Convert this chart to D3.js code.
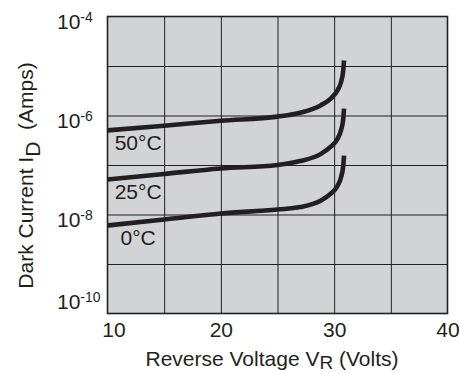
<!DOCTYPE html>
<html><head><meta charset="utf-8">
<script src="https://cdn.jsdelivr.net/npm/d3@7"></script>
<style>body{margin:0;background:#fff}</style>
</head><body><svg id="c" width="460" height="374"></svg>
<script>
const voltage   = [10, 15, 20, 25, 27.0, 28.8, 29.7, 30.3, 30.6, 30.8, 30.87];
const current50C = [5.0e-7, 6.2e-7, 7.85e-7, 9.5e-7, 1.14e-6, 1.6e-6, 2.2e-6, 3.24e-6, 4.7e-6, 8.1e-6, 1.29e-5];
const current25C = [5.1e-8, 6.6e-8, 8.5e-8, 1.0e-7, 1.2e-7, 1.66e-7, 2.34e-7, 3.39e-7, 5.0e-7, 8.5e-7, 1.38e-6];
const current0C  = [6.0e-9, 7.9e-9, 1.05e-8, 1.26e-8, 1.41e-8, 1.9e-8, 2.63e-8, 3.8e-8, 5.6e-8, 9.5e-8, 1.55e-7];
const seriesLabels = ["50°C", "25°C", "0°C"];
const xTicks = [10, 20, 30, 40];
const xGrid = [15, 20, 25, 30, 35];
const yTicks = [1e-4, 1e-6, 1e-8, 1e-10];
const yTickExponents = ["-4", "-6", "-8", "-10"];
const yGrid = [1e-5, 1e-6, 1e-7, 1e-8, 1e-9];
const xTitle = ["Reverse Voltage V", "R", " (Volts)"];
const yTitle = ["Dark Current I", "D", "\u00a0 (Amps)"];

const svg = d3.select("#c");
const ink = "#231f20";
const font = "'Liberation Sans', Arial, Helvetica, sans-serif";
const x = d3.scaleLinear().domain([10, 40]).range([107.5, 447.5]);
const y = d3.scaleLog().domain([1e-10, 1e-4]).range([313.5, 16.5]);
const W = x(40) - x(10), H = y(1e-10) - y(1e-4);

svg.append("rect").attr("x", x(10)).attr("y", y(1e-4)).attr("width", W).attr("height", H).attr("fill", "#d1d3d4");

svg.append("g").attr("transform", `translate(0,${y(1e-10)})`)
  .call(d3.axisBottom(x).tickValues(xGrid).tickSize(-H).tickFormat(""))
  .call(g => { g.select(".domain").remove(); g.selectAll("line").attr("stroke", ink).attr("stroke-width", 1); });

svg.append("g").attr("transform", `translate(${x(10)},0)`)
  .call(d3.axisLeft(y).tickValues(yGrid).tickSize(-W).tickFormat(""))
  .call(g => { g.select(".domain").remove(); g.selectAll("line").attr("stroke", ink).attr("stroke-width", 1); });

svg.append("rect").attr("x", x(10)).attr("y", y(1e-4)).attr("width", W).attr("height", H)
  .attr("fill", "none").attr("stroke", ink).attr("stroke-width", 1.6);

const line = d3.line().x(d => x(d[0])).y(d => y(d[1])).curve(d3.curveMonotoneX);
const series = [current50C, current25C, current0C];
series.forEach((vals, i) => {
  const pts = voltage.map((v, j) => [v, vals[j]]);
  svg.append("path").attr("d", line(pts)).attr("fill", "none").attr("stroke", ink)
    .attr("stroke-width", 4.6).attr("stroke-linecap", "butt");
  svg.append("text").attr("x", x(12.7)).attr("y", y(vals[0]) + 20)
    .attr("text-anchor", "middle").attr("font-family", font).attr("font-size", 21).attr("fill", ink)
    .text(seriesLabels[i]);
});

svg.append("g").attr("transform", `translate(0,${y(1e-10)})`)
  .call(d3.axisBottom(x).tickValues(xTicks).tickSize(0).tickPadding(9).tickFormat(d3.format("d")))
  .call(g => { g.select(".domain").remove();
    g.selectAll("text").attr("font-family", font).attr("font-size", 21).attr("fill", ink)
     .attr("dx", d => d === 10 ? 6 : 0); });

const yl = svg.append("g");
yTicks.forEach((v, i) => {
  const t = yl.append("text").attr("x", 57).attr("y", Math.min(y(v) + 12, y(1e-10) - 5))
    .attr("font-family", font).attr("font-size", 21).attr("fill", ink);
  t.append("tspan").text("10");
  t.append("tspan").attr("font-size", 14).attr("dy", -7).text(yTickExponents[i]);
});

const xt = svg.append("text").attr("x", 272).attr("y", 366).attr("text-anchor", "middle")
  .attr("font-family", font).attr("font-size", 21).attr("fill", ink);
xt.append("tspan").text(xTitle[0]);
xt.append("tspan").attr("dy", 3).attr("font-size", 19).text(xTitle[1]);
xt.append("tspan").attr("dy", -3).text(xTitle[2]);

const yt = svg.append("text").attr("transform", "translate(33,175.5) rotate(-90)").attr("text-anchor", "middle")
  .attr("font-family", font).attr("font-size", 21).attr("fill", ink);
yt.append("tspan").text(yTitle[0]);
yt.append("tspan").attr("dy", 7).text(yTitle[1]);
yt.append("tspan").attr("dy", -7).text(yTitle[2]);
</script></body></html>
